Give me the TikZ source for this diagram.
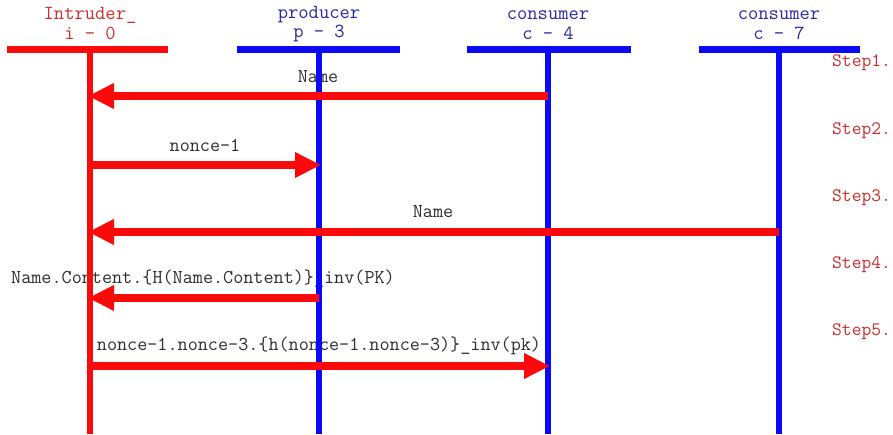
\documentclass[tikz,border=0pt]{standalone}
\usepackage{fontspec}
\usetikzlibrary{arrows.meta}
\definecolor{lifered}{RGB}{250,10,10}
\definecolor{lifeblue}{RGB}{10,10,245}
\definecolor{txtred}{RGB}{205,45,45}
\definecolor{txtblue}{RGB}{40,40,165}
\definecolor{txtgrey}{RGB}{45,45,45}
\tikzset{
  x=1pt, y=-1pt,
  headtxt/.style={inner sep=0pt, font=\ttfamily\fontsize{20}{21}\selectfont},
  msgtxt/.style={inner sep=0pt, text=txtgrey, font=\ttfamily\fontsize{19.6}{21}\selectfont},
  steptxt/.style={inner sep=0pt, anchor=west, text=txtred, font=\ttfamily\fontsize{19}{20}\selectfont},
  headbar/.style={line width=7pt},
  lifeline/.style={line width=6pt},
  msg/.style={draw=lifered, line width=8pt, -{Triangle[length=26pt,width=24pt]}, shorten >=-2pt},
}
\begin{document}
\begin{tikzpicture}
\useasboundingbox (0,0) rectangle (893,434);
\fill[white] (0,0) rectangle (893,434);

% participant captions
\node[headtxt, text=txtred]  (capI1) at (90,15) {Intruder\_};
\node[headtxt, text=txtred]  (capI2) at (90,33) {i - 0};
\node[headtxt, text=txtblue] (capP1) at (319,15) {producer};
\node[headtxt, text=txtblue] (capP2) at (319,33) {p - 3};
\node[headtxt, text=txtblue] (capC1) at (548,15) {consumer};
\node[headtxt, text=txtblue] (capC2) at (548,33) {c - 4};
\node[headtxt, text=txtblue] (capD1) at (779,15) {consumer};
\node[headtxt, text=txtblue] (capD2) at (779,33) {c - 7};

% step markers
\node[steptxt] (s1) at (832,63)  {Step1.};
\node[steptxt] (s2) at (832,131) {Step2.};
\node[steptxt] (s3) at (832,198) {Step3.};
\node[steptxt] (s4) at (832,265) {Step4.};
\node[steptxt] (s5) at (832,332) {Step5.};

% message labels
\node[msgtxt] (m1) at (318,77)  {Name};
\node[msgtxt] (m2) at (205,145) {nonce-1};
\node[msgtxt] (m3) at (433,212) {Name};
\node[msgtxt] (m4) at (203,279) {Name.Content.\{H(Name.Content)\}\_inv(PK)};
\node[msgtxt] (m5) at (319,346) {nonce-1.nonce-3.\{h(nonce-1.nonce-3)\}\_inv(pk)};

% lifeline anchor points
\foreach \n/\x in {I/90, P/319, C/548, D/779}{
  \coordinate (\n top) at (\x,49);
  \coordinate (\n bot) at (\x,434);
  \foreach \k/\y in {1/96, 2/165, 3/232, 4/298, 5/366}{
    \coordinate (\n\k) at (\x,\y);
  }
}

% heads and lifelines
\draw[headbar, lifered]  (7,49) -- (168,49);
\draw[headbar, lifeblue] (237,49) -- (400,49);
\draw[headbar, lifeblue] (467,49) -- (631,49);
\draw[headbar, lifeblue] (699,49) -- (860,49);
\draw[lifeline, lifered]  (Itop) -- (Ibot);
\draw[lifeline, lifeblue] (Ptop) -- (Pbot);
\draw[lifeline, lifeblue] (Ctop) -- (Cbot);
\draw[lifeline, lifeblue] (Dtop) -- (Dbot);

% messages
\draw[msg] (C1) -- (I1);
\draw[msg] (I2) -- (P2);
\draw[msg] (D3) -- (I3);
\draw[msg] (P4) -- (I4);
\draw[msg] (I5) -- (C5);
\end{tikzpicture}
\end{document}
